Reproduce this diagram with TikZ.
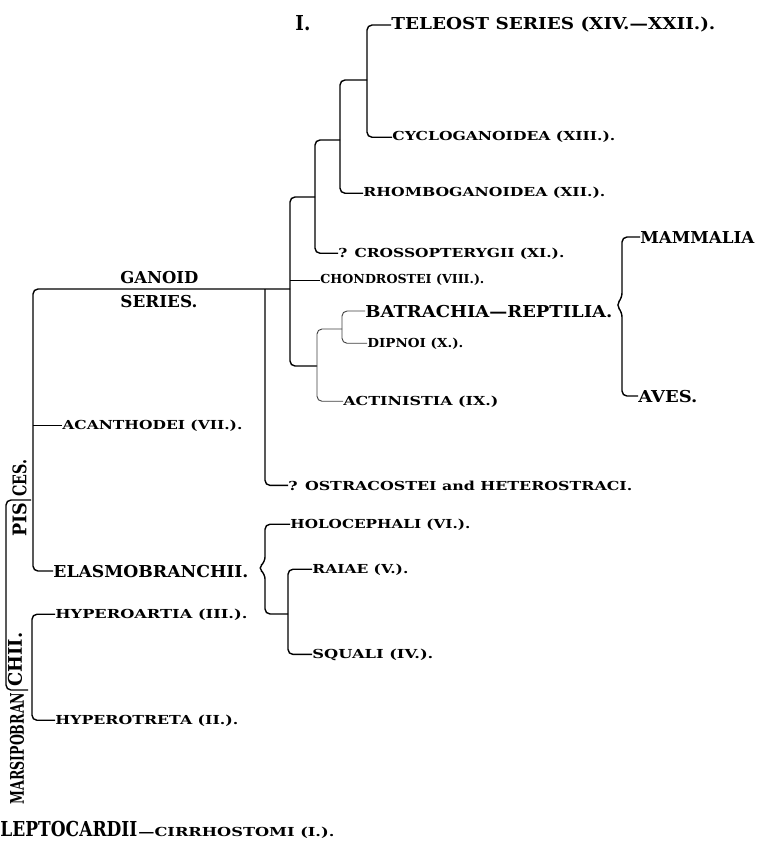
\documentclass[tikz,border=0pt]{standalone}
\usepackage{fontspec}
\setmainfont{DejaVu Serif}
\usepackage{graphicx}
\usetikzlibrary{calc}
\newcommand{\fitw}[2]{\resizebox{#1}{\height}{#2}}
\tikzset{
  bigt/.style={font=\fontsize{8.2}{9}\selectfont\bfseries, inner sep=0pt, anchor=base west},
  hugt/.style={font=\fontsize{10.3}{11}\selectfont\bfseries, inner sep=0pt, anchor=base west},
  smallt/.style={font=\fontsize{6.2}{7}\selectfont\bfseries, inner sep=0pt, anchor=base west},
  vert/.style={font=\fontsize{9.4}{10}\selectfont\bfseries, inner sep=0pt, rotate=90, anchor=west},
  br/.style={line width=0.7pt, rounded corners=2.5pt},
  thinbr/.style={line width=0.45pt, rounded corners=2.5pt, black!75}
}
\begin{document}
\begin{tikzpicture}[x=0.5pt, y=-0.5pt]
\useasboundingbox[fill=white] (0,0) rectangle (764,850);

% ---- texts ----
\node[hugt] (roman) at (295,31) {\fitw{7.5pt}{I.}};
\node[bigt] (teleost) at (391,30) {\fitw{162pt}{TELEOST SERIES (XIV.—XXII.).}};
\node[smallt] (cyclo) at (392,141) {\fitw{111.5pt}{CYCLOGANOIDEA (XIII.).}};
\node[smallt] (rhombo) at (363,197) {\fitw{121pt}{RHOMBOGANOIDEA (XII.).}};
\node[smallt] (crosso) at (338,257) {\fitw{113pt}{? CROSSOPTERYGII (XI.).}};
\node[smallt] (chondro) at (320,284) {\fitw{82pt}{CHONDROSTEI (VIII.).}};
\node[bigt] (batr) at (365,317) {\fitw{123.5pt}{BATRACHIA—REPTILIA.}};
\node[smallt] (dipnoi) at (367,347) {\fitw{48pt}{DIPNOI (X.).}};
\node[smallt] (actin) at (343,405) {\fitw{77.5pt}{ACTINISTIA (IX.)}};
\node[bigt] (mammalia) at (640,243) {\fitw{57pt}{MAMMALIA}};
\node[bigt] (aves) at (638,402) {\fitw{29.5pt}{AVES.}};
\node[bigt] (ganoid) at (120,283) {\fitw{39pt}{GANOID}};
\node[bigt] (series) at (120,307) {\fitw{38.5pt}{SERIES.}};
\node[smallt] (acantho) at (62,429) {\fitw{90pt}{ACANTHODEI (VII.).}};
\node[smallt] (ostra) at (288,490) {\fitw{172pt}{? OSTRACOSTEI and HETEROSTRACI.}};
\node[smallt] (holo) at (290,528) {\fitw{90pt}{HOLOCEPHALI (VI.).}};
\node[smallt] (raiae) at (312,573) {\fitw{48pt}{RAIAE (V.).}};
\node[smallt] (squali) at (312,658) {\fitw{60.5pt}{SQUALI (IV.).}};
\node[bigt] (elasmo) at (53,577) {\fitw{97.5pt}{ELASMOBRANCHII.}};
\node[smallt] (hyperoa) at (55,618) {\fitw{96pt}{HYPEROARTIA (III.).}};
\node[smallt] (hyperot) at (55,724) {\fitw{91.5pt}{HYPEROTRETA (II.).}};
\node[hugt] (lepto) at (0,836) {\fitw{68.5pt}{LEPTOCARDII}};
\node[smallt] (cirrho) at (138,836) {\fitw{98pt}{—CIRRHOSTOMI (I.).}};

% vertical texts
\node[vert] (marsi) at (17,805) {\fitw{56pt}{MARSIPOBRAN}};
\node[vert] (chii) at (15,687) {\fitw{27pt}{CHII.}};
\node[vert] (pis) at (19.5,537) {\fitw{17pt}{PIS}};
\node[vert] (ces) at (19.5,497) {\fitw{18.5pt}{CES.}};

% ---- junctions ----
\coordinate (s1) at (367,80);
\coordinate (s2) at (340,140);
\coordinate (s3) at (315,197);
\coordinate (s4) at (290,289);
\coordinate (s5) at (317,366);
\coordinate (s6) at (342,329);
\coordinate (s7) at (265,289);
\coordinate (s8) at (33,424);
\coordinate (s9) at (288,614);
\coordinate (s10) at (32,665);
\coordinate (ecusp) at (258,568);
\coordinate (mcusp) at (616,305);
\coordinate (pb1) at (31,500);
\coordinate (pb2) at (28,690);

% ---- connectors ----
\draw[br] (teleost.west) -| (s1) |- (cyclo.west);
\draw[br] (s1) -| (s2) |- (rhombo.west);
\draw[br] (s2) -| (s3) |- (crosso.west);
\draw[br] (s3) -| (s4) |- (s5);
\draw[br] (chondro.west) -- (s4 |- chondro.west);
\draw[thinbr] (s6) -| (s5) |- (actin.west);
\draw[thinbr] (batr.west) -| (s6) |- (dipnoi.west);
\draw[br] (s4) -| (s8) |- (elasmo.west);
\draw[br] (acantho.west) -- (s8 |- acantho.west);
\draw[br] (s7) |- (ostra.west);
\draw[br] (holo.west) -| ($(ecusp)+(7,-6)$) -- (ecusp) -- ($(ecusp)+(7,6)$) |- (s9);
\draw[br] (raiae.west) -| (s9) |- (squali.west);
\draw[br] (mammalia.west) -| ($(mcusp)+(6,-7)$) -- (mcusp) -- ($(mcusp)+(6,7)$) |- (aves.west);
\draw[br] (hyperoa.west) -| (s10) |- (hyperot.west);
\draw[br] (pb1) -- (6,500) -- (6,690) -- (pb2);
\end{tikzpicture}
\end{document}
